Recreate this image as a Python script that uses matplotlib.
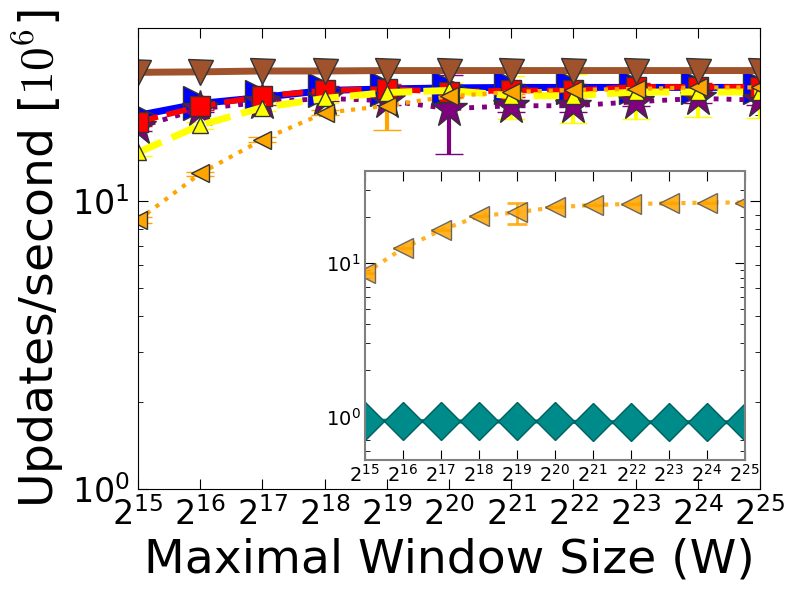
import numpy as np
import matplotlib
matplotlib.use('Agg')
import matplotlib.pyplot as plt

# Potencias de dos del eje x (2^15 .. 2^25)
exponentes = list(range(15, 26))
ventana = [2 ** e for e in exponentes]

# Series principales (millones de updates por segundo)
marron = [28.1, 28.2, 28.4, 28.4, 28.5, 28.5, 28.5, 28.5, 28.5, 28.5, 28.5]
marron_err = [0.3, 0.3, 0.3, 0.3, 0.3, 0.3, 0.3, 0.3, 0.3, 0.3, 0.3]
azul = [19.9, 21.9, 23.0, 24.3, 24.6, 24.8, 24.9, 24.9, 24.9, 24.9, 24.9]
azul_err = [0.5, 0.5, 0.5, 0.5, 0.5, 0.5, 0.5, 0.5, 0.5, 0.5, 0.5]
rojo = [18.9, 21.4, 23.2, 24.3, 24.6, 24.0, 24.3, 24.3, 25.0, 25.0, 25.0]
rojo_err = [0.6, 0.6, 0.8, 0.8, 1.0, 1.0, 1.2, 1.2, 0.8, 0.8, 0.8]
morado = [18.1, 21.0, 22.1, 22.8, 22.4, 21.0, 21.5, 21.5, 22.2, 22.8, 22.5]
morado_err = [0.5, 0.5, 0.5, 0.5, 0.8, 6.4, 1.0, 1.0, 0.8, 0.8, 0.8]
amarillo = [14.8, 18.4, 21.2, 22.8, 23.9, 24.3, 23.3, 23.3, 24.0, 24.0, 24.0]
amarillo_err = [0.4, 0.5, 0.6, 0.8, 1.0, 1.5, 3.9, 4.5, 4.6, 4.4, 4.5]
naranja = [8.6, 12.5, 16.4, 20.3, 21.5, 23.2, 24.0, 24.4, 24.6, 24.9, 24.9]
naranja_err = [0.2, 0.2, 0.3, 0.4, 3.8, 0.4, 0.4, 0.4, 0.4, 0.4, 0.4]

# Series del recuadro
naranja_in = [8.6, 12.5, 16.4, 20.3, 21.5, 23.2, 24.0, 24.4, 24.6, 24.9, 24.9]
naranja_in_err = [0.0, 0.0, 0.0, 0.0, 3.4, 0.0, 0.0, 0.0, 0.0, 0.0, 0.0]
turquesa = [0.94, 0.94, 0.93, 0.93, 0.93, 0.93, 0.92, 0.92, 0.92, 0.92, 0.92]

plt.rcParams['xtick.direction'] = 'in'
plt.rcParams['ytick.direction'] = 'in'
plt.rcParams['xtick.top'] = True
plt.rcParams['ytick.right'] = True
plt.rcParams['xtick.major.size'] = 7
plt.rcParams['ytick.major.size'] = 7
plt.rcParams['xtick.minor.size'] = 3.5
plt.rcParams['ytick.minor.size'] = 3.5

fig = plt.figure(figsize=(8, 6), dpi=100)
ax = fig.add_axes([0.1725, 0.185, 0.7775, 0.768])


def serie(eje, y, err, color, marcador, tam, estilo, grosor, **kw):
    eje.errorbar(ventana, y, yerr=err, color=color, marker=marcador, markersize=tam,
                 linestyle=estilo, linewidth=grosor, markeredgecolor='#333333',
                 markeredgewidth=1, ecolor=color, elinewidth=3, capsize=10,
                 capthick=3, **kw)


serie(ax, azul, azul_err, 'blue', '>', 24, '-', 5)
serie(ax, morado, morado_err, 'purple', '*', 28, ':', 3.5)
serie(ax, rojo, rojo_err, 'red', 's', 15, '--', 4)
serie(ax, amarillo, amarillo_err, 'yellow', '^', 12, '--', 5)
serie(ax, naranja, naranja_err, 'orange', '<', 13, ':', 3)
serie(ax, marron, marron_err, 'sienna', 'v', 18, '-', 5)

ax.set_xscale('log', base=2)
ax.set_yscale('log')
ax.set_xlim(2 ** 15, 2 ** 25)
ax.set_ylim(1, 40)
ax.set_xticks(ventana)
ax.tick_params(axis='both', which='major', labelsize=24, pad=6)
ax.set_xlabel('Maximal Window Size (W)', fontsize=34)
ax.set_ylabel('Updates/second [$10^6$]', fontsize=34, math_fontfamily='cm')

# Recuadro interior
ins = fig.add_axes([0.456, 0.233, 0.475, 0.482])
ins.errorbar(ventana, naranja_in, yerr=naranja_in_err, color='orange', marker='<',
             markersize=14, linestyle=':', linewidth=3, alpha=0.85,
             markeredgecolor='#555555', ecolor='orange', elinewidth=2, capsize=7,
             capthick=2)
ins.plot(ventana, turquesa, color='#008b8b', marker='D', markersize=19, linestyle='-',
         linewidth=3, markeredgecolor='#005f5f')
ins.set_xscale('log', base=2)
ins.set_yscale('log')
ins.set_xlim(2 ** 15, 2 ** 25)
ins.set_ylim(0.52, 40)
ins.set_xticks(ventana)
ins.tick_params(axis='both', which='major', labelsize=14, pad=3)
for lado in ins.spines.values():
    lado.set_color('gray')
    lado.set_linewidth(1.5)

fig.savefig('out.png', dpi=100)
